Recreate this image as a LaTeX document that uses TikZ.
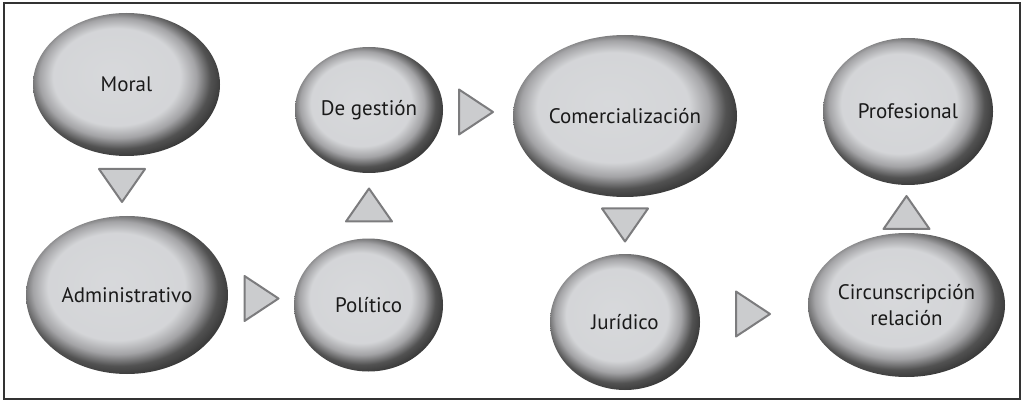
\documentclass[tikz,border=0pt]{standalone}
\usepackage{fontspec}
\setmainfont{PT Sans}
\usetikzlibrary{shapes.geometric}
\pgfdeclareradialshading{orb}{\pgfpoint{-4bp}{4bp}}{rgb(0bp)=(0.845,0.85,0.86); rgb(17bp)=(0.83,0.835,0.845); rgb(21bp)=(0.64,0.64,0.65); rgb(24.5bp)=(0.32,0.32,0.32); rgb(28bp)=(0.2,0.2,0.2); rgb(50bp)=(0.2,0.2,0.2)}
\definecolor{txt}{HTML}{1A1A1A}
\definecolor{trifill}{HTML}{CBCCCE}
\definecolor{triedge}{HTML}{7C7C7E}
\definecolor{frame}{HTML}{333333}
\tikzset{
  orbnode/.style={ellipse, inner sep=0pt, shading=orb, shade, text=txt, align=center,
    font=\fontsize{21}{26}\selectfont},
  tribox/.style={fill=trifill, draw=triedge, line width=2pt, line join=round},
}
\begin{document}
\begin{tikzpicture}[x=1pt,y=-1pt]
\useasboundingbox (0,0) rectangle (1024,403);
\draw[frame, line width=1.3pt] (4,3) rectangle (1020,399);
% ellipses
\node[orbnode, minimum width=187pt, minimum height=143pt] (moral) at (126.5,84.5) {Moral};
\node[orbnode, minimum width=202pt, minimum height=158pt] (admin) at (127,295) {Administrativo};
\node[orbnode, minimum width=149pt, minimum height=133pt] (politico) at (368.5,305) {Político};
\node[orbnode, minimum width=148pt, minimum height=126pt] (gestion) at (369,110) {De gestión};
\node[orbnode, minimum width=224pt, minimum height=162pt] (comercial) at (625,116) {Comercialización};
\node[orbnode, minimum width=150pt, minimum height=136pt] (juridico) at (625,322) {Jurídico};
\node[orbnode, minimum width=197pt, minimum height=144pt] (circ) at (906.5,305) {Circunscripción\\relación};
\node[orbnode, minimum width=170pt, minimum height=147pt] (prof) at (908,111.5) {Profesional};
% triangle markers
\coordinate (t1) at (122,185.5);
\coordinate (t2) at (261.5,298.5);
\coordinate (t3) at (369,205);
\coordinate (t4) at (476,112);
\coordinate (t5) at (625,225);
\coordinate (t6) at (753,314);
\coordinate (t7) at (906.5,212.5);
\draw[tribox, shift={(t1)}] (-23,-16.5) -- (23,-16.5) -- (0,16.5) -- cycle;
\draw[tribox, shift={(t2)}] (-17,-22.5) -- (17,0) -- (-17,22.5) -- cycle;
\draw[tribox, shift={(t3)}] (-23,16.5) -- (23,16.5) -- (0,-16.5) -- cycle;
\draw[tribox, shift={(t4)}] (-17,-22.5) -- (17,0) -- (-17,22.5) -- cycle;
\draw[tribox, shift={(t5)}] (-23,-16.5) -- (23,-16.5) -- (0,16.5) -- cycle;
\draw[tribox, shift={(t6)}] (-17,-22.5) -- (17,0) -- (-17,22.5) -- cycle;
\draw[tribox, shift={(t7)}] (-23,16.5) -- (23,16.5) -- (0,-16.5) -- cycle;
\end{tikzpicture}
\end{document}
